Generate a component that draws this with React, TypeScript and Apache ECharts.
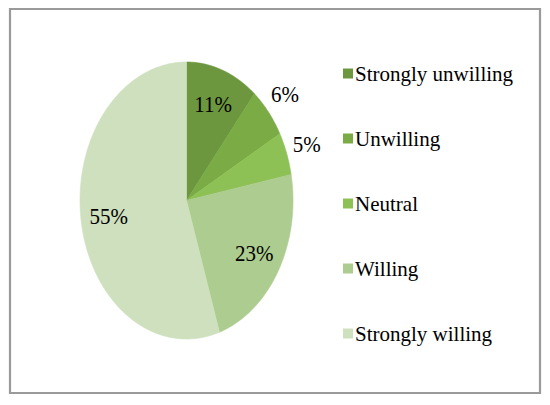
import React, { useEffect, useRef } from "react";
import * as echarts from "echarts";

const categories = ["Strongly unwilling", "Unwilling", "Neutral", "Willing", "Strongly willing"];
const values = [11, 6, 5, 23, 55];
const colors = ["#6d973e", "#7aab44", "#8dc155", "#adcc8f", "#cee0be"];

const CX = 186.5;
const CY = 200.5;
const RX = 106.5;
const RY = 138.5;
const FONT = "'Times New Roman', 'Liberation Serif', serif";

export default function App() {
  const ref = useRef<HTMLDivElement>(null);
  useEffect(() => {
    const chart = echarts.init(ref.current!, null, { renderer: "svg" });
    const total = values.reduce((a, b) => a + b, 0);
    const starts: number[] = [];
    let acc = 0;
    values.forEach((v) => {
      starts.push(acc);
      acc += v;
    });
    const pt = (deg: number, f: number) => {
      const r = (deg * Math.PI) / 180;
      return [CX + RX * f * Math.sin(r), CY - RY * f * Math.cos(r)];
    };
    const series = categories.map((name, i) => ({
      type: "custom",
      name,
      coordinateSystem: "none",
      data: [values[i]],
      itemStyle: { color: colors[i] },
      renderItem: (_params: any, api: any) => {
        const v = api.value(0) as number;
        const a0 = (starts[i] / total) * 360;
        const a1 = a0 + (v / total) * 360;
        const pts: number[][] = [[CX, CY]];
        const n = Math.max(6, Math.ceil((a1 - a0) * 1.5));
        for (let k = 0; k <= n; k++) pts.push(pt(a0 + ((a1 - a0) * k) / n, 1));
        const mid = (a0 + a1) / 2;
        const inside = v >= 10;
        const lp = pt(mid, inside ? 0.74 : 1.2);
        return {
          type: "group",
          children: [
            {
              type: "polygon",
              shape: { points: pts },
              style: { fill: colors[i], stroke: colors[i], lineWidth: 0.6 },
            },
            {
              type: "text",
              x: lp[0],
              y: lp[1],
              scaleY: 1.1,
              style: {
                text: Math.round((v / total) * 100) + "%",
                fill: "#000000",
                fontSize: 21,
                fontFamily: FONT,
                align: "center",
                verticalAlign: "middle",
              },
            },
          ],
        };
      },
    }));
    chart.setOption({
      animation: false,
      backgroundColor: "#ffffff",
      textStyle: { fontFamily: FONT },
      legend: {
        orient: "vertical",
        left: 343,
        top: 63,
        padding: 0,
        icon: "rect",
        itemWidth: 10,
        itemHeight: 10,
        itemGap: 44,
        data: categories,
        selectedMode: false,
        textStyle: { fontFamily: FONT, fontSize: 21, color: "#000000", padding: [0, 0, 0, -3] },
      },
      graphic: [
        {
          type: "rect",
          shape: { x: 10, y: 9, width: 530, height: 384 },
          style: { fill: "none", stroke: "#9a9a9a", lineWidth: 2.2 },
          silent: true,
        },
      ],
      series,
    } as any);
    return () => chart.dispose();
  }, []);
  return (
    <div
      ref={ref}
      style={{ position: "absolute", left: 0, top: 0, width: 550, height: 405 }}
    />
  );
}
